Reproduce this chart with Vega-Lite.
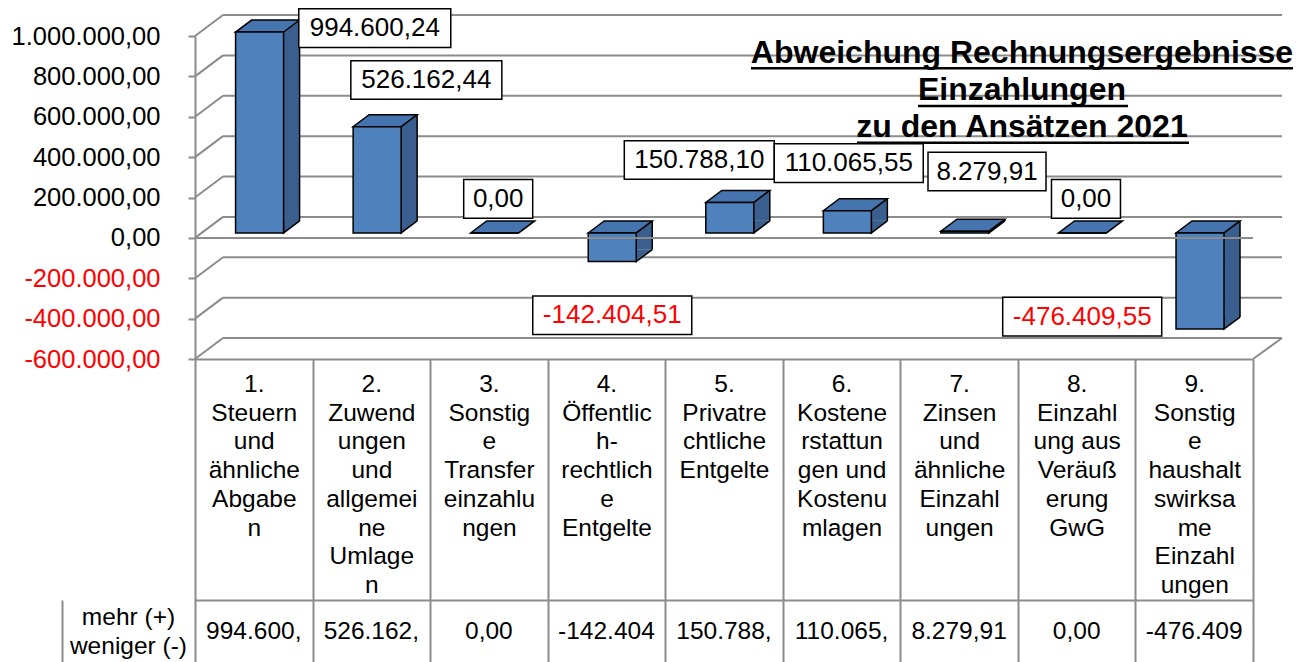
{
  "$schema": "https://vega.github.io/schema/vega-lite/v6.json",
  "width": 1191,
  "height": 662,
  "autosize": {"type": "none"},
  "padding": {"left": 62, "top": 0, "right": 59, "bottom": 0},
  "config": {
    "view": {"stroke": null},
    "font": "Liberation Sans",
    "locale": {"number": {"decimal": ",", "thousands": ".", "grouping": [3], "currency": ["", " €"], "minus": "-"}}
  },
  "title": {
    "text": ["Abweichung Rechnungsergebnisse", "Einzahlungen", "zu den Ansätzen 2021"],
    "orient": "bottom", "anchor": "end", "frame": "group", "align": "center", "dx": -231,
    "baseline": "top", "offset": -625,
    "fontSize": 32, "font": "Liberation Sans", "fontWeight": "bold", "lineHeight": 37, "color": "black"
  },
  "datasets": {
    "bars": [
      {"cat": "1. Steuern und ähnliche Abgaben", "value": 994600.24},
      {"cat": "2. Zuwendungen und allgemeine Umlagen", "value": 526162.44},
      {"cat": "3. Sonstige Transfereinzahlungen", "value": 0},
      {"cat": "4. Öffentlich-rechtliche Entgelte", "value": -142404.51},
      {"cat": "5. Privatrechtliche Entgelte", "value": 150788.10},
      {"cat": "6. Kostenerstattungen und Kostenumlagen", "value": 110065.55},
      {"cat": "7. Zinsen und ähnliche Einzahlungen", "value": 8279.91},
      {"cat": "8. Einzahlung aus Veräußerung GwG", "value": 0},
      {"cat": "9. Sonstige haushaltswirksame Einzahlungen", "value": -476409.55}
    ],
    "ticks": [{"v": -600000}, {"v": -400000}, {"v": -200000}, {"v": 0}, {"v": 200000}, {"v": 400000}, {"v": 600000}, {"v": 800000}, {"v": 1000000}]
  },
  "layer": [
    {
      "layer": [
        {
          "data": {"name": "ticks"},
          "mark": {"type": "rule", "color": "#8C8C8C", "strokeWidth": 2, "xOffset": -30.78, "x2Offset": 87.78, "yOffset": -21},
          "encoding": {
            "x": {
              "datum": "1. Steuern und ähnliche Abgaben", "type": "nominal",
              "scale": {"domain": ["1. Steuern und ähnliche Abgaben", "2. Zuwendungen und allgemeine Umlagen", "3. Sonstige Transfereinzahlungen", "4. Öffentlich-rechtliche Entgelte", "5. Privatrechtliche Entgelte", "6. Kostenerstattungen und Kostenumlagen", "7. Zinsen und ähnliche Einzahlungen", "8. Einzahlung aus Veräußerung GwG", "9. Sonstige haushaltswirksame Einzahlungen"], "range": [133, 1191], "paddingInner": 0, "paddingOuter": 0},
              "axis": {
                "orient": "bottom", "offset": -303, "tickBand": "extent", "tickSize": 303, "tickColor": "#8C8C8C", "tickWidth": 2,
                "domainColor": "#8C8C8C", "domainWidth": 2, "grid": false, "title": null,
                "labelAngle": 0, "labelFontSize": 24.5, "labelFont": "Liberation Sans", "labelColor": "black", "labelLineHeight": 28.7,
                "labelBaseline": "top", "labelPadding": -289.5, "labelOverlap": false, "labelLimit": 0,
                "labelExpr": "{'1. Steuern und ähnliche Abgaben':['1.','Steuern','und','ähnliche','Abgabe','n'],'2. Zuwendungen und allgemeine Umlagen':['2.','Zuwend','ungen','und','allgemei','ne','Umlage','n'],'3. Sonstige Transfereinzahlungen':['3.','Sonstig','e','Transfer','einzahlu','ngen'],'4. Öffentlich-rechtliche Entgelte':['4.','Öffentlic','h-','rechtlich','e','Entgelte'],'5. Privatrechtliche Entgelte':['5.','Privatre','chtliche','Entgelte'],'6. Kostenerstattungen und Kostenumlagen':['6.','Kostene','rstattun','gen und','Kostenu','mlagen'],'7. Zinsen und ähnliche Einzahlungen':['7.','Zinsen','und','ähnliche','Einzahl','ungen'],'8. Einzahlung aus Veräußerung GwG':['8.','Einzahl','ung aus','Veräuß','erung','GwG'],'9. Sonstige haushaltswirksame Einzahlungen':['9.','Sonstig','e','haushalt','swirksa','me','Einzahl','ungen']}[datum.label]"
              }
            },
            "x2": {"datum": "9. Sonstige haushaltswirksame Einzahlungen"},
            "y": {
              "field": "v", "type": "quantitative",
              "scale": {"domain": [-600000, 1000000], "range": [359, 36], "nice": false, "zero": false},
              "axis": {
                "orient": "left", "offset": -133, "values": [-600000, -400000, -200000, 0, 200000, 400000, 600000, 800000, 1000000],
                "format": ",.2f", "labelFontSize": 25.5, "labelFont": "Liberation Sans",
                "labelColor": {"condition": {"test": "datum.value < 0", "value": "#FF0000"}, "value": "black"},
                "labelPadding": 28, "labelBaseline": "middle", "tickSize": 7, "tickColor": "#8C8C8C", "tickWidth": 2,
                "domainColor": "#8C8C8C", "domainWidth": 2, "grid": false, "title": null
              }
            }
          }
        },
        {
          "data": {"name": "ticks"},
          "mark": {"type": "rule", "color": "#8C8C8C", "strokeWidth": 2, "xOffset": -58.78, "x2Offset": -30.78, "y2Offset": -21},
          "encoding": {
            "x": {"datum": "1. Steuern und ähnliche Abgaben", "type": "nominal"},
            "x2": {"datum": "1. Steuern und ähnliche Abgaben"},
            "y": {"field": "v", "type": "quantitative"},
            "y2": {"field": "v"}
          }
        },
        {
          "data": {"name": "ticks"},
          "transform": [{"filter": "datum.v == -600000"}],
          "mark": {"type": "rule", "color": "#8C8C8C", "strokeWidth": 2, "xOffset": 58.78, "x2Offset": 87.78, "y2Offset": -21},
          "encoding": {
            "x": {"datum": "9. Sonstige haushaltswirksame Einzahlungen", "type": "nominal"},
            "x2": {"datum": "9. Sonstige haushaltswirksame Einzahlungen"},
            "y": {"field": "v", "type": "quantitative"},
            "y2": {"field": "v"}
          }
        },
        {
          "data": {"name": "bars"},
          "mark": {"type": "bar", "width": 16, "xOffset": 37.8, "yOffset": -17, "y2Offset": -17, "color": "#3A5E8D"},
          "encoding": {
            "x": {"field": "cat", "type": "nominal"},
            "y": {"field": "value", "type": "quantitative"},
            "y2": {"datum": 0}
          }
        },
        {
          "data": {"name": "bars"},
          "transform": [{"filter": "datum.value != 0"}],
          "mark": {"type": "rule", "color": "black", "strokeWidth": 1.5, "xOffset": 45.8, "yOffset": -17, "y2Offset": -17},
          "encoding": {
            "x": {"field": "cat", "type": "nominal"},
            "y": {"field": "value", "type": "quantitative"},
            "y2": {"datum": 0}
          }
        },
        {
          "data": {"name": "bars"},
          "transform": [{"filter": "datum.value > 0"}],
          "mark": {"type": "point", "shape": "M0,-12L0,0L16,-12", "size": 4, "filled": true, "fill": "#3A5E8D", "stroke": "black", "strokeWidth": 1.5, "opacity": 1, "xOffset": 29.8, "yOffset": -5},
          "encoding": {
            "x": {"field": "cat", "type": "nominal"},
            "y": {"datum": 0, "type": "quantitative"}
          }
        },
        {
          "data": {"name": "bars"},
          "transform": [{"filter": "datum.value < 0"}],
          "mark": {"type": "point", "shape": "M0,-12L0,0L16,-12", "size": 4, "filled": true, "fill": "#3A5E8D", "stroke": "black", "strokeWidth": 1.5, "opacity": 1, "xOffset": 29.8, "yOffset": -5},
          "encoding": {
            "x": {"field": "cat", "type": "nominal"},
            "y": {"field": "value", "type": "quantitative"}
          }
        },
        {
          "data": {"name": "bars"},
          "transform": [{"filter": "datum.value > 0"}],
          "mark": {"type": "point", "shape": "M0,0L48,0L64,-12L16,-12Z", "size": 4, "filled": true, "fill": "#4674AE", "stroke": "black", "strokeWidth": 1.5, "opacity": 1, "xOffset": -18.2, "yOffset": -5},
          "encoding": {
            "x": {"field": "cat", "type": "nominal"},
            "y": {"field": "value", "type": "quantitative"}
          }
        },
        {
          "data": {"name": "bars"},
          "transform": [{"filter": "datum.value <= 0"}],
          "mark": {"type": "point", "shape": "M0,0L48,0L64,-12L16,-12Z", "size": 4, "filled": true, "fill": "#4674AE", "stroke": "black", "strokeWidth": 1.5, "opacity": 1, "xOffset": -18.2, "yOffset": -5},
          "encoding": {
            "x": {"field": "cat", "type": "nominal"},
            "y": {"datum": 0, "type": "quantitative"}
          }
        },
        {
          "data": {"name": "bars"},
          "mark": {"type": "bar", "width": 48, "xOffset": 5.8, "yOffset": -5, "y2Offset": -5, "fill": "#4F81BD", "stroke": "black", "strokeWidth": 1.5},
          "encoding": {
            "x": {"field": "cat", "type": "nominal"},
            "y": {"field": "value", "type": "quantitative"},
            "y2": {"datum": 0}
          }
        },
        {
          "data": {"name": "ticks"},
          "transform": [{"filter": "datum.v == 0"}],
          "mark": {"type": "rule", "color": "#8C8C8C", "strokeWidth": 2, "xOffset": -58.78, "x2Offset": 58.78},
          "encoding": {
            "x": {"datum": "1. Steuern und ähnliche Abgaben", "type": "nominal"},
            "x2": {"datum": "9. Sonstige haushaltswirksame Einzahlungen"},
            "y": {"field": "v", "type": "quantitative"}
          }
        },
        {
          "data": {"values": [{}]},
          "mark": {"type": "rule", "color": "black", "strokeWidth": 2.5, "xOffset": 497.2, "x2Offset": 1039.2, "yOffset": 32.3},
          "encoding": {
            "x": {"datum": "1. Steuern und ähnliche Abgaben", "type": "nominal"},
            "x2": {"datum": "1. Steuern und ähnliche Abgaben"},
            "y": {"datum": 1000000, "type": "quantitative"}
          }
        },
        {
          "data": {"values": [{}]},
          "mark": {"type": "rule", "color": "black", "strokeWidth": 2.5, "xOffset": 664.2, "x2Offset": 874.2, "yOffset": 70},
          "encoding": {
            "x": {"datum": "1. Steuern und ähnliche Abgaben", "type": "nominal"},
            "x2": {"datum": "1. Steuern und ähnliche Abgaben"},
            "y": {"datum": 1000000, "type": "quantitative"}
          }
        },
        {
          "data": {"values": [{}]},
          "mark": {"type": "rule", "color": "black", "strokeWidth": 2.5, "xOffset": 603.2, "x2Offset": 935.2, "yOffset": 106.7},
          "encoding": {
            "x": {"datum": "1. Steuern und ähnliche Abgaben", "type": "nominal"},
            "x2": {"datum": "1. Steuern und ähnliche Abgaben"},
            "y": {"datum": 1000000, "type": "quantitative"}
          }
        },
        {
          "data": {"name": "bars"}, "transform": [{"filter": "datum.value > 900000"}],
          "mark": {"type": "bar", "width": 152, "xOffset": 121, "yOffset": -28.3, "y2Offset": 10.3, "fill": "white", "stroke": "black", "strokeWidth": 1.5},
          "encoding": {"x": {"field": "cat", "type": "nominal"}, "y": {"field": "value", "type": "quantitative"}, "y2": {"field": "value"}}
        },
        {
          "data": {"name": "bars"}, "transform": [{"filter": "datum.value > 300000 && datum.value <= 900000"}],
          "mark": {"type": "bar", "width": 151, "xOffset": 55, "yOffset": -71, "y2Offset": -32.4, "fill": "white", "stroke": "black", "strokeWidth": 1.5},
          "encoding": {"x": {"field": "cat", "type": "nominal"}, "y": {"field": "value", "type": "quantitative"}, "y2": {"field": "value"}}
        },
        {
          "data": {"name": "bars"}, "transform": [{"filter": "datum.value > 130000 && datum.value <= 300000"}],
          "mark": {"type": "bar", "width": 150, "xOffset": -24.7, "yOffset": -66.7, "y2Offset": -28.1, "fill": "white", "stroke": "black", "strokeWidth": 1.5},
          "encoding": {"x": {"field": "cat", "type": "nominal"}, "y": {"field": "value", "type": "quantitative"}, "y2": {"field": "value"}}
        },
        {
          "data": {"name": "bars"}, "transform": [{"filter": "datum.value > 50000 && datum.value <= 130000"}],
          "mark": {"type": "bar", "width": 149, "xOffset": 7.2, "yOffset": -71.8, "y2Offset": -33.2, "fill": "white", "stroke": "black", "strokeWidth": 1.5},
          "encoding": {"x": {"field": "cat", "type": "nominal"}, "y": {"field": "value", "type": "quantitative"}, "y2": {"field": "value"}}
        },
        {
          "data": {"name": "bars"}, "transform": [{"filter": "datum.value > 0 && datum.value <= 50000"}],
          "mark": {"type": "bar", "width": 118, "xOffset": 27.9, "yOffset": -84, "y2Offset": -45.4, "fill": "white", "stroke": "black", "strokeWidth": 1.5},
          "encoding": {"x": {"field": "cat", "type": "nominal"}, "y": {"field": "value", "type": "quantitative"}, "y2": {"field": "value"}}
        },
        {
          "data": {"name": "bars"}, "transform": [{"filter": "datum.value == 0"}],
          "mark": {"type": "bar", "width": 69, "xOffset": 9.3, "yOffset": -58.3, "y2Offset": -19.7, "fill": "white", "stroke": "black", "strokeWidth": 1.5},
          "encoding": {"x": {"field": "cat", "type": "nominal"}, "y": {"field": "value", "type": "quantitative"}, "y2": {"field": "value"}}
        },
        {
          "data": {"name": "bars"}, "transform": [{"filter": "datum.value < 0 && datum.value >= -300000"}],
          "mark": {"type": "bar", "width": 159, "xOffset": 5.8, "yOffset": 29.4, "y2Offset": 68, "fill": "white", "stroke": "black", "strokeWidth": 1.5},
          "encoding": {"x": {"field": "cat", "type": "nominal"}, "y": {"field": "value", "type": "quantitative"}, "y2": {"field": "value"}}
        },
        {
          "data": {"name": "bars"}, "transform": [{"filter": "datum.value < -300000"}],
          "mark": {"type": "bar", "width": 159, "xOffset": -112, "yOffset": -36.7, "y2Offset": 1.9, "fill": "white", "stroke": "black", "strokeWidth": 1.5},
          "encoding": {"x": {"field": "cat", "type": "nominal"}, "y": {"field": "value", "type": "quantitative"}, "y2": {"field": "value"}}
        },
        {
          "data": {"name": "bars"}, "transform": [{"filter": "datum.value > 900000"}],
          "mark": {"type": "text", "dx": 121, "dy": -9, "fontSize": 26, "font": "Liberation Sans", "align": "center", "baseline": "middle"},
          "encoding": {"x": {"field": "cat", "type": "nominal"}, "y": {"field": "value", "type": "quantitative"}, "text": {"field": "value", "type": "quantitative", "format": ",.2f"}, "color": {"condition": {"test": "datum.value < 0", "value": "#FF0000"}, "value": "black"}}
        },
        {
          "data": {"name": "bars"}, "transform": [{"filter": "datum.value > 300000 && datum.value <= 900000"}],
          "mark": {"type": "text", "dx": 55, "dy": -51.7, "fontSize": 26, "font": "Liberation Sans", "align": "center", "baseline": "middle"},
          "encoding": {"x": {"field": "cat", "type": "nominal"}, "y": {"field": "value", "type": "quantitative"}, "text": {"field": "value", "type": "quantitative", "format": ",.2f"}, "color": {"condition": {"test": "datum.value < 0", "value": "#FF0000"}, "value": "black"}}
        },
        {
          "data": {"name": "bars"}, "transform": [{"filter": "datum.value > 130000 && datum.value <= 300000"}],
          "mark": {"type": "text", "dx": -24.7, "dy": -47.4, "fontSize": 26, "font": "Liberation Sans", "align": "center", "baseline": "middle"},
          "encoding": {"x": {"field": "cat", "type": "nominal"}, "y": {"field": "value", "type": "quantitative"}, "text": {"field": "value", "type": "quantitative", "format": ",.2f"}, "color": {"condition": {"test": "datum.value < 0", "value": "#FF0000"}, "value": "black"}}
        },
        {
          "data": {"name": "bars"}, "transform": [{"filter": "datum.value > 50000 && datum.value <= 130000"}],
          "mark": {"type": "text", "dx": 7.2, "dy": -52.5, "fontSize": 26, "font": "Liberation Sans", "align": "center", "baseline": "middle"},
          "encoding": {"x": {"field": "cat", "type": "nominal"}, "y": {"field": "value", "type": "quantitative"}, "text": {"field": "value", "type": "quantitative", "format": ",.2f"}, "color": {"condition": {"test": "datum.value < 0", "value": "#FF0000"}, "value": "black"}}
        },
        {
          "data": {"name": "bars"}, "transform": [{"filter": "datum.value > 0 && datum.value <= 50000"}],
          "mark": {"type": "text", "dx": 27.9, "dy": -64.7, "fontSize": 26, "font": "Liberation Sans", "align": "center", "baseline": "middle"},
          "encoding": {"x": {"field": "cat", "type": "nominal"}, "y": {"field": "value", "type": "quantitative"}, "text": {"field": "value", "type": "quantitative", "format": ",.2f"}, "color": {"condition": {"test": "datum.value < 0", "value": "#FF0000"}, "value": "black"}}
        },
        {
          "data": {"name": "bars"}, "transform": [{"filter": "datum.value == 0"}],
          "mark": {"type": "text", "dx": 9.3, "dy": -39, "fontSize": 26, "font": "Liberation Sans", "align": "center", "baseline": "middle"},
          "encoding": {"x": {"field": "cat", "type": "nominal"}, "y": {"field": "value", "type": "quantitative"}, "text": {"field": "value", "type": "quantitative", "format": ",.2f"}, "color": {"condition": {"test": "datum.value < 0", "value": "#FF0000"}, "value": "black"}}
        },
        {
          "data": {"name": "bars"}, "transform": [{"filter": "datum.value < 0 && datum.value >= -300000"}],
          "mark": {"type": "text", "dx": 5.8, "dy": 48.7, "fontSize": 26, "font": "Liberation Sans", "align": "center", "baseline": "middle"},
          "encoding": {"x": {"field": "cat", "type": "nominal"}, "y": {"field": "value", "type": "quantitative"}, "text": {"field": "value", "type": "quantitative", "format": ",.2f"}, "color": {"condition": {"test": "datum.value < 0", "value": "#FF0000"}, "value": "black"}}
        },
        {
          "data": {"name": "bars"}, "transform": [{"filter": "datum.value < -300000"}],
          "mark": {"type": "text", "dx": -112, "dy": -17.4, "fontSize": 26, "font": "Liberation Sans", "align": "center", "baseline": "middle"},
          "encoding": {"x": {"field": "cat", "type": "nominal"}, "y": {"field": "value", "type": "quantitative"}, "text": {"field": "value", "type": "quantitative", "format": ",.2f"}, "color": {"condition": {"test": "datum.value < 0", "value": "#FF0000"}, "value": "black"}}
        }
      ]
    },
    {
      "layer": [
        {
          "data": {"name": "bars"},
          "mark": {"type": "text", "fontSize": 24.5, "font": "Liberation Sans", "limit": 100, "ellipsis": "\u200b", "color": "black", "align": "center", "baseline": "middle"},
          "encoding": {
            "x": {"field": "cat", "type": "nominal"},
            "y": {
              "datum": "mehr (+) weniger (-)", "type": "nominal",
              "scale": {"range": [600, 664], "paddingInner": 0, "paddingOuter": 0},
              "axis": {
                "orient": "left", "offset": 0, "tickBand": "extent", "grid": true, "gridColor": "#8C8C8C", "gridWidth": 2,
                "ticks": false, "labels": false, "domain": true, "domainColor": "#8C8C8C", "domainWidth": 2, "title": null
              }
            },
            "text": {"field": "value", "type": "quantitative", "format": ",.2f"}
          }
        },
        {
          "data": {"values": [{}]},
          "mark": {"type": "text", "text": ["mehr (+)", "weniger (-)"], "fontSize": 24.5, "font": "Liberation Sans", "lineHeight": 29, "color": "black", "align": "center", "baseline": "middle", "dy": -14.5, "xOffset": -125.3},
          "encoding": {
            "x": {"datum": "1. Steuern und ähnliche Abgaben", "type": "nominal"},
            "y": {"datum": "mehr (+) weniger (-)", "type": "nominal"}
          }
        }
      ]
    }
  ],
  "resolve": {"scale": {"y": "independent"}, "axis": {"y": "independent"}}
}
